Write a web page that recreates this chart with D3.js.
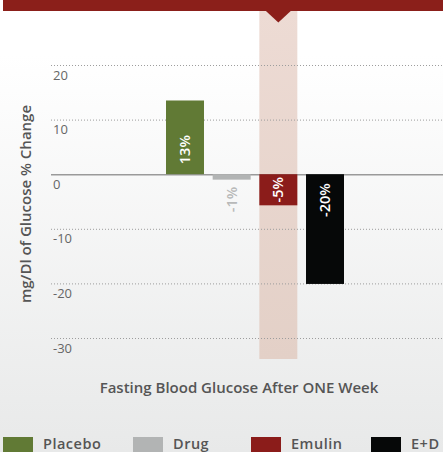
<!DOCTYPE html>
<html>
<head>
<meta charset="utf-8">
<script src="https://cdn.jsdelivr.net/npm/d3@7"></script>
<style>
html, body { margin: 0; padding: 0; overflow: hidden; }
body { width: 443px; height: 452px; }
text { font-family: "Open Sans", sans-serif; }
</style>
</head>
<body>
<div id="viz"></div>
<script>
var w = 443,
	h = 452;

var categories = ['Placebo', 'Drug', 'Emulin', 'E+D'];
var values = [13.5, -1, -5.7, -20.1];
var value_labels = ['13%', '-1%', '-5%', '-20%'];
var colors = ['#617a35', '#b2b4b4', '#8b1c1a', '#060808'];
var tick_values = [20, 10, 0, -10, -20, -30];
var highlight = 'Emulin';

//legend swatch positions
var legend_x = [3, 133, 251, 371];

var svg = d3.select('#viz').append('svg')
	.attr('width', w)
	.attr('height', h);

var defs = svg.append('defs');
var bg = defs.append('linearGradient')
	.attr('id', 'bg')
	.attr('x1', 0).attr('y1', 0).attr('x2', 0).attr('y2', 1);
bg.append('stop').attr('offset', '0.12').attr('stop-color', '#ffffff');
bg.append('stop').attr('offset', '1').attr('stop-color', '#e8e9e9');

var bandGrad = defs.append('linearGradient')
	.attr('id', 'band')
	.attr('x1', 0).attr('y1', 0).attr('x2', 0).attr('y2', 1);
bandGrad.append('stop').attr('offset', '0').attr('stop-color', '#eddbd4');
bandGrad.append('stop').attr('offset', '1').attr('stop-color', '#e3d0c7');

svg.append('rect')
	.attr('width', w)
	.attr('height', h)
	.attr('fill', 'url(#bg)');

var x = d3.scaleBand()
	.domain(categories)
	.range([166, 344])
	.paddingInner(0.186)
	.paddingOuter(0);

var y = d3.scaleLinear()
	.domain([-30, 20])
	.range([338, 65]);

// highlight column behind Emulin
svg.append('rect')
	.attr('x', x(highlight))
	.attr('y', 11)
	.attr('width', x.bandwidth())
	.attr('height', 348)
	.attr('fill', 'url(#band)');

// top banner with pointer
svg.append('rect')
	.attr('x', 3)
	.attr('y', 0)
	.attr('width', w - 3)
	.attr('height', 11)
	.attr('fill', '#8b1f1a');
var cx = x(highlight) + x.bandwidth() / 2;
svg.append('path')
	.attr('d', 'M' + (cx - 13.5) + ',10 L' + (cx + 13.5) + ',10 L' + cx + ',22.5 Z')
	.attr('fill', '#8b1f1a');

// gridlines + tick labels
var axis = d3.axisRight(y)
	.tickValues(tick_values)
	.tickSize(w - 51)
	.tickFormat(function(d){ return d; });

var gAxis = svg.append('g')
	.attr('class', 'y-axis')
	.attr('transform', 'translate(51,0)')
	.call(axis);
gAxis.select('.domain').remove();
gAxis.selectAll('.tick line')
	.attr('stroke', function(d){ return d === 0 ? '#9a9a9a' : '#9d9d9d'; })
	.attr('stroke-width', function(d){ return d === 0 ? 1.5 : 1; })
	.attr('stroke-dasharray', function(d){ return d === 0 ? null : '1,2'; });
gAxis.selectAll('.tick text')
	.attr('x', 2)
	.attr('dy', 0)
	.attr('y', 14)
	.attr('fill', '#666')
	.style('font-size', '13px')
	.style('font-family', '"Open Sans", sans-serif')
	.attr('text-anchor', 'start');

// bars
var data = categories.map(function(c, i){
	return { name: c, value: values[i], label: value_labels[i], color: colors[i] };
});

svg.selectAll('.bar')
	.data(data)
	.enter().append('rect')
		.attr('class', 'bar')
		.attr('x', function(d){ return x(d.name); })
		.attr('y', function(d){ return y(Math.max(0, d.value)); })
		.attr('width', x.bandwidth())
		.attr('height', function(d){ return Math.abs(y(d.value) - y(0)); })
		.attr('fill', function(d){ return d.color; });

// value labels, rotated
svg.selectAll('.vlabel')
	.data(data)
	.enter().append('text')
		.attr('class', 'vlabel')
		.attr('transform', function(d){
			var bx = x(d.name) + x.bandwidth() / 2 + 5,
				by;
			var hgt = Math.abs(y(d.value) - y(0));
			if (d.value > 0) by = y(0) - 10;
			else if (hgt < 10) by = y(d.value) + 7;
			else if (hgt < 40) by = (y(0) + y(d.value)) / 2;
			else by = y(0) + 9;
			return 'translate(' + bx + ',' + by + ') rotate(-90)';
		})
		.attr('text-anchor', function(d){
			var hgt = Math.abs(y(d.value) - y(0));
			if (d.value > 0) return 'start';
			if (hgt >= 10 && hgt < 40) return 'middle';
			return 'end';
		})
		.attr('fill', function(d){ return Math.abs(y(d.value) - y(0)) < 10 ? '#b8b9b9' : '#fff'; })
		.style('font-size', '14.5px')
		.style('font-weight', 600)
		.text(function(d){ return d.label; });

// axis titles
svg.append('text')
	.attr('transform', 'translate(31,204) rotate(-90)')
	.attr('text-anchor', 'middle')
	.attr('fill', '#555')
	.style('font-size', '15px')
	.style('font-weight', 600)
	.text('mg/Dl of Glucose % Change');

svg.append('text')
	.attr('x', 239)
	.attr('y', 393)
	.attr('text-anchor', 'middle')
	.attr('fill', '#555')
	.style('font-size', '15px')
	.style('font-weight', 600)
	.text('Fasting Blood Glucose After ONE Week');

// legend
var legend = svg.selectAll('.legend')
	.data(data)
	.enter().append('g')
		.attr('class', 'legend')
		.attr('transform', function(d, i){ return 'translate(' + legend_x[i] + ',437)'; });
legend.append('rect')
	.attr('width', 30)
	.attr('height', 20)
	.attr('fill', function(d){ return d.color; });
legend.append('text')
	.attr('x', 40)
	.attr('y', 11.5)
	.attr('fill', '#555')
	.style('font-size', '14.5px')
	.style('font-weight', 600)
	.style('letter-spacing', '0.5px')
	.text(function(d){ return d.name; });
</script>
</body>
</html>
